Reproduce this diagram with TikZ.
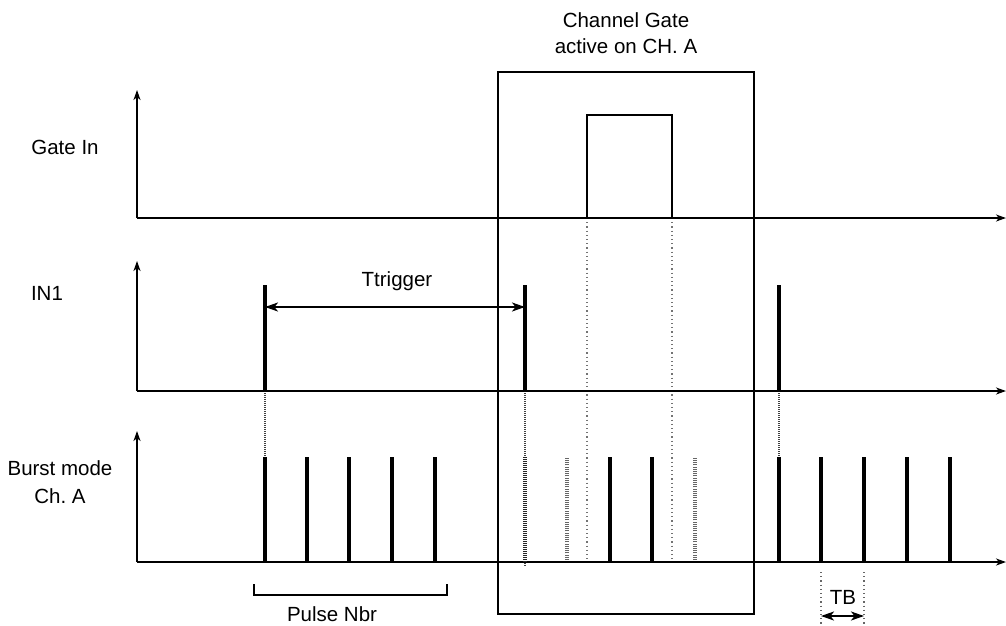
\documentclass[tikz,border=0pt]{standalone}
\usepackage{fontspec}
\setmainfont{Liberation Sans}
\usetikzlibrary{arrows.meta}
\frenchspacing
\begin{document}
\begin{tikzpicture}[x=1pt,y=-1pt,
  axis/.style={line width=2pt,-{Stealth[length=10pt,width=7pt,inset=3pt]}},
  pulse/.style={line width=3.8pt},
  thin/.style={line width=2pt},
  gatedot/.style={black!55,line width=1.1pt,dash pattern=on 1.2pt off 3pt},
  trigdot/.style={black!75,line width=1.6pt,dash pattern=on 1pt off 1pt},
  ghost/.style={black!60,line width=3.2pt,dash pattern=on 1pt off 1.2pt},
  ghostdark/.style={black!85,line width=3.2pt,dash pattern=on 1pt off 1pt},
  dim/.style={line width=1.8pt,{Stealth[length=13pt,width=9pt,inset=3.5pt]}-{Stealth[length=13pt,width=9pt,inset=3.5pt]}},
  lbl/.style={font=\fontsize{20.5}{24}\selectfont,align=center,inner sep=0pt}]
\useasboundingbox (0,0) rectangle (1006,625);

% axes origins
\coordinate (o1) at (137,218);
\coordinate (o2) at (137,391);
\coordinate (o3) at (137,562);
\coordinate (t1) at (137,90);
\coordinate (t2) at (137,261);
\coordinate (t3) at (137,431);
\coordinate (e1) at (1006,218);
\coordinate (e2) at (1006,391);
\coordinate (e3) at (1006,562);

% gate box
\draw[thin] (498,72) rectangle (754,614);
\node[lbl] (gatelbl) at (626,33) {Channel Gate\\[2pt]active on CH. A};

% dotted gate projections
\draw[gatedot] (587,218) -- (587,562);
\draw[gatedot] (672,218) -- (672,562);

% trigger projections
\draw[trigdot] (265,391) -- (265,457);
\draw[trigdot] (525,391) -- (525,567);
\draw[trigdot] (779,391) -- (779,457);

% axes
\draw[axis] (o1) -- (t1);
\draw[axis] (o1) -- (e1);
\draw[axis] (o2) -- (t2);
\draw[axis] (o2) -- (e2);
\draw[axis] (o3) -- (t3);
\draw[axis] (o3) -- (e3);

% Gate In pulse
\draw[thin] (587,218) -- (587,115) -- (672,115) -- (672,218);

% IN1 pulses
\foreach \x/\n in {265/p1,525/p2,779/p3}{
  \coordinate (\n) at (\x,285);
  \draw[pulse] (\x,391) -- (\n);
}
\draw[dim] (265,307) -- (525,307);
\node[lbl] (ttrig) at (397,281) {Ttrigger};

% Burst pulses
\foreach \x in {265,307,349,392,435,610,652,779,821,864,907,950}{
  \draw[pulse] (\x,562) -- (\x,457);
}
\draw[ghostdark] (525,562) -- (525,457);
\draw[ghost] (567,560) -- (567,457);
\draw[ghost] (695,560) -- (695,457);

% Pulse Nbr bracket
\draw[line width=1.5pt] (254,584) -- (254,595) -- (447,595) -- (447,584);
\node[lbl] (pnbr) at (332,614) {Pulse Nbr};

% TB
\draw[gatedot,black!60] (821,572) -- (821,625);
\draw[gatedot,black!60] (864,572) -- (864,625);
\draw[dim] (821,616) -- (864,616);
\node[lbl] (tb) at (843,597) {TB};

% row labels
\node[lbl] (gin) at (65,147) {Gate In};
\node[lbl] (in1) at (47,293) {IN1};
\node[lbl] (burst) at (60,482) {Burst mode\\[4pt]Ch. A};
\end{tikzpicture}
\end{document}
